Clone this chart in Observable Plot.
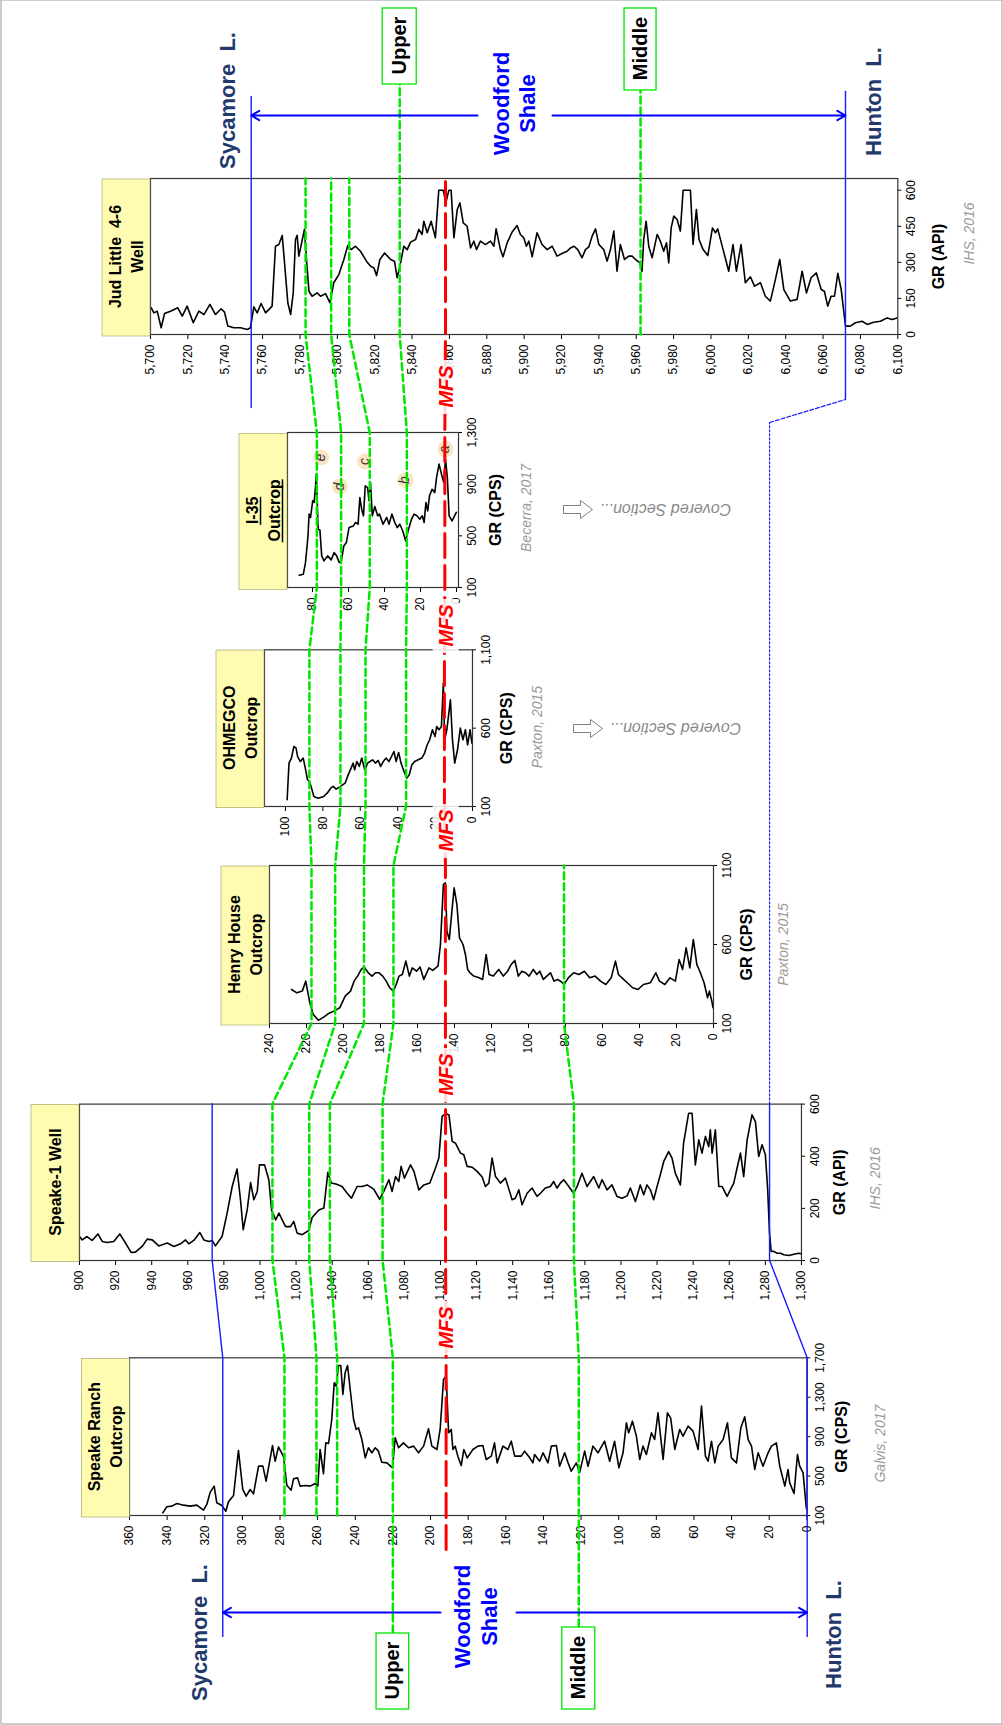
<!DOCTYPE html>
<html><head><meta charset="utf-8">
<script src="https://cdn.jsdelivr.net/npm/d3@7"></script>
<script src="https://cdn.jsdelivr.net/npm/@observablehq/plot@0.6"></script>
<style>
html,body{margin:0;padding:0;background:#fff;}
body{width:1002px;height:1725px;overflow:hidden;position:relative;}
#stage{position:absolute;left:0;top:0;width:1725px;height:1002px;transform-origin:0 0;transform:translate(0px,1725px) rotate(-90deg);background:#fff;}
#stage svg{position:absolute;}
</style></head><body><div id="stage"></div><script>
// ---------------- DATA ----------------
const srDepth = [342.3,340.2,337.5,334.8,331.3,327.8,324.2,320.7,318.9,317.1,315,313.6,310.9,308.8,307.4,304.7,302.1,299.8,298,295.9,294.1,291.4,289.1,287.4,284,282.6,280.8,278.1,276.4,274.1,272.8,270.7,269.3,266.6,264,261.3,259.9,258.7,256.9,255.7,254.2,252.5,251.2,250.2,248.9,247.7,246.6,245.4,244.1,242.4,240.9,239.5,238.3,236.5,234.7,233,231.2,229.4,227.7,225.9,223.2,220.2,218.8,217,214.4,211.7,209,206.4,203.7,201.1,199.3,196.6,194.9,193.1,191.7,190.4,189,188.1,186.9,185.5,183.7,182.3,180.5,177.5,174.8,172.2,170.4,167.7,166,164.6,161.5,158.9,157.1,155.3,151.8,150,147.3,145.6,144.7,142,140.2,137.6,135.8,133.1,131.4,128.7,126.9,125.2,122.5,120.8,118.1,116.3,113.7,111,107.5,104.8,102.2,99.9,97.7,95.9,94.7,92.7,90.6,88.8,87.1,85.3,82.6,80.9,79.1,76.4,74.1,72.4,70.2,67.6,65.8,63.1,60.5,57.8,56,53.9,52.5,50.7,48.9,47.1,44.5,42.2,40.1,37.4,35.1,33,31.2,29.4,27.7,25.9,23.3,20.6,18.8,16.2,14.4,11.7,10,9.1,6.8,5,3.8,2,0.3,0];
const srGR = [127,188,195,222,205,195,205,154,212,337,398,229,201,144,239,303,760,364,296,364,320,601,601,448,810,651,796,695,408,357,472,482,398,404,398,425,398,770,523,837,831,1074,1446,1412,1622,1622,1328,1548,1622,1328,1074,973,990,871,685,787,736,787,753,641,634,584,888,787,837,787,804,736,804,980,804,770,973,1480,1514,939,973,770,804,702,607,770,685,770,804,810,668,702,837,634,804,770,854,702,702,753,685,634,719,651,736,634,804,810,600,736,634,550,634,533,753,600,804,736,854,651,854,584,736,1040,939,1057,905,668,804,719,939,871,1142,668,1142,1091,770,973,905,1007,956,770,1210,702,651,854,634,804,871,1040,685,634,990,1101,871,804,567,736,600,736,804,837,600,398,567,431,323,719,600,533,178,161];

const s1Depth = [900,901.5,904.2,907,910.2,912.6,915.3,919,922.3,925.5,928.6,931,934.7,937.5,940.3,943.9,948.6,952.3,956,958.7,960.6,963.3,966.7,968.9,971.7,973.5,975.3,979,981.8,984.6,987.3,989.2,990.7,992.9,994.8,996.6,998.5,999.7,1002.5,1004.9,1006.4,1008.7,1010.5,1012.3,1014.2,1016.9,1018.7,1020.6,1023.4,1027,1028.9,1032.6,1035.4,1037.6,1039.5,1041.8,1045.5,1048.3,1050.7,1053.8,1056.6,1059.4,1063,1066.3,1068.6,1071.4,1073.2,1075.1,1076.9,1078.2,1080,1083.4,1085.3,1088,1090.8,1094.1,1097.2,1099.1,1100.9,1102.8,1104.7,1106.5,1108.3,1111.1,1112.9,1114.8,1117.5,1120.3,1123.1,1124.9,1126.8,1128.6,1130.5,1133.2,1136,1139.7,1141.5,1143.4,1145.2,1148,1150.8,1153.5,1155.4,1158.1,1160.9,1162.7,1164.6,1166.4,1168.3,1171.1,1173.8,1175.7,1178.4,1181.2,1184.9,1187.7,1189.5,1192.3,1195,1197.8,1200.6,1203.4,1205.2,1208,1210.7,1212.6,1214.4,1216.3,1218.1,1220,1221.8,1223.7,1226.4,1228.3,1230.1,1232.9,1234.7,1237.5,1239.4,1241.2,1243.1,1244.9,1246.8,1248.6,1249.5,1250.5,1252.3,1254.2,1256,1258.8,1260.6,1262.5,1264.3,1266.2,1268,1269.9,1272.6,1274.5,1276.3,1278.2,1280,1281.3,1282.3,1283.2,1284.7,1286.5,1288.4,1290.2,1293,1295.8,1298.5,1300];
const s1GR = [92,79,92,77,102,73,69,73,102,67,31,32,54,82,79,56,67,54,64,79,64,77,107,79,73,77,56,92,182,284,351,233,118,194,299,233,265,367,367,310,194,156,182,156,130,130,150,105,99,115,165,194,201,338,297,294,284,258,239,284,284,290,274,235,265,310,265,322,303,361,316,367,342,271,290,297,354,393,553,563,559,457,450,412,406,361,358,342,320,284,297,393,322,297,316,233,239,271,214,258,278,246,258,278,284,303,278,297,310,284,258,284,335,284,322,278,310,271,290,246,239,248,278,226,290,252,290,271,233,284,329,380,418,393,335,290,450,565,565,367,463,412,476,437,501,412,501,284,284,246,271,297,354,412,322,463,559,533,399,444,406,271,105,35,35,28,28,22,19,24,28,26];

const hhDepth = [228.1,225.2,222.3,220.4,219.4,218.4,216.5,213.6,210.7,207.8,204.9,202,199.1,196.2,194.3,192.4,190.4,188.9,186.6,184.6,182.7,180.8,178.8,176.9,175,173.1,171.5,170,168.2,166.3,164.4,162.8,160.5,158.6,156.6,153.8,151.8,148.9,147.6,146,144.9,144.1,142.8,141.4,140.2,138.7,137.3,135.4,134.1,132.9,131.6,129.6,126.7,124.8,122.9,121.3,119,116.1,113.6,111.3,109.4,107.4,105.5,103.6,101.6,99.7,97.4,95.5,93.9,92,90.1,88.1,86.2,84.3,82.3,80.8,78.5,75.6,72.7,69.8,66.9,64,61.1,58.2,55.3,53,51.4,49.5,46.6,43.7,40.8,37.9,34.1,31.2,29.2,26.3,23.5,20.6,18.6,16.7,14.8,12.8,10.9,9,7.4,5.1,3.2,2.2,0.9,0.3];
const hhGR = [315,294,305,368,305,241,160,120,140,165,180,200,273,305,368,400,442,457,421,400,421,421,400,368,326,305,347,400,410,495,400,452,431,457,379,452,436,463,600,980,990,684,632,811,959,853,642,600,537,442,421,400,389,379,537,410,400,442,400,431,473,499,400,431,421,400,442,410,431,379,400,421,368,379,364,347,389,421,410,431,389,400,368,347,389,495,410,389,358,326,315,347,358,421,368,347,389,368,505,442,579,452,632,473,431,358,263,305,241,200];

const omDepth = [99.1,98.1,96.8,95.5,94.3,93.5,92,90.5,89.2,88.2,87.2,86.3,84.8,82.5,79.6,77.7,75.8,74.5,72.9,70.6,68.1,66.8,65.3,63.8,63,61.8,60.5,59.2,57.6,56.1,54.8,53.4,51.9,50.4,49.1,47.7,46.2,44.7,43.3,42,40.8,39.5,38.2,36.6,35.1,33.8,32.4,30.9,29,27.1,25.6,24.2,22.9,21.4,20,19.1,17.9,16.6,15.6,14.9,13.7,11.8,10.7,9.5,8,6.5,5.1,3.8,2.6,1.3,0.3];
const omGR = [143,377,409,483,473,419,387,409,334,270,260,228,164,153,164,185,217,228,211,228,249,292,334,377,334,387,356,409,334,377,387,398,377,394,356,387,409,387,419,451,387,445,377,324,281,302,366,387,398,409,441,494,526,590,547,611,590,611,887,526,590,781,526,377,462,600,526,590,494,590,504];

const i35Depth = [87.4,85.1,83.9,82.5,81.9,81.1,79.9,79.1,78.3,77.9,77.5,76.9,75.9,74.9,73.6,71.6,69.6,68,66.6,65.2,64,62.6,61.2,59.7,57.3,56.1,54.7,53.7,52.7,51.7,50.7,49.4,48.6,47.8,46.8,45.4,43.8,42.8,40.8,38.8,37.5,35.9,34.3,32.9,31.5,29.9,28.3,26.9,25,23.6,22,20.4,19,18,17,16,15,13.6,12.1,11.1,9.7,8.1,7.1,6.1,5.1,4.1,2.5,1.1,0.1];
const i35GR = [195,203,293,500,668,642,771,758,887,977,822,551,546,345,306,345,314,371,345,293,306,422,448,564,577,603,590,797,706,655,887,874,771,913,655,727,655,668,590,642,590,668,603,564,590,539,461,539,629,668,655,629,655,603,758,693,810,861,835,951,1055,964,913,1093,951,655,616,655,681];

const jlDepth = [5700.4,5701.8,5703.6,5705.7,5707.5,5710.7,5714.6,5717,5719.6,5722.9,5725.9,5728.6,5731.8,5734.8,5737.8,5739.6,5741.4,5744.6,5748.2,5751.8,5753.5,5755.3,5757.1,5759.2,5761.6,5765.1,5766.9,5768.7,5770.5,5771.9,5773.5,5775,5776.4,5777.6,5778.5,5779.4,5780.7,5782.4,5783.5,5784.8,5786.5,5789.2,5791,5793.7,5796,5798.1,5800.8,5803.5,5805.6,5807.4,5809.7,5812.4,5815.6,5817.8,5819.6,5821,5822.8,5825.3,5828.5,5830.6,5832,5833.5,5835.6,5837.4,5839.2,5841.9,5843.6,5845.4,5846.3,5848.1,5850.2,5852.5,5854.3,5856.7,5858.1,5859.7,5860.9,5862.4,5864.2,5865.6,5867.4,5869.5,5871.3,5873.1,5874.5,5876.6,5879.3,5882,5883.8,5885,5887.3,5888.7,5890.9,5893.5,5896.2,5898,5899.8,5901.2,5902.5,5904.3,5906.9,5909.6,5912.3,5915,5917.6,5920.3,5923,5924.8,5926.6,5928.7,5931,5932.8,5934.6,5936.4,5938.2,5940,5942.6,5944.4,5946.2,5948,5949.7,5951.5,5953.7,5956,5957.8,5959.6,5961.9,5963.1,5964,5965.3,5966.7,5968.5,5971.2,5972.9,5974.7,5976.2,5977.4,5978.7,5980.1,5981.9,5983.6,5985.1,5989,5990.4,5992.2,5993.6,5995.8,5998.3,6000.8,6002.4,6003.6,6006.5,6009.5,6011.8,6013.6,6016.1,6018.4,6021.1,6023.3,6026.5,6029.1,6031.8,6034.5,6036.8,6039,6042.5,6046.1,6048.8,6051.1,6053.6,6056.4,6059,6060.7,6062.5,6064.3,6066.1,6067.9,6069.7,6072,6074.6,6077.3,6080.9,6083.6,6087.1,6090.7,6094.3,6097,6099.6];
const jlGR = [111,90,97,28,87,97,111,76,118,49,97,83,125,83,107,93,35,28,28,21,28,115,90,129,90,118,367,374,412,284,132,83,173,395,412,326,374,437,312,180,159,173,159,170,132,215,249,312,370,353,367,346,305,284,277,245,312,339,312,305,236,284,367,353,384,395,437,416,471,423,471,402,600,600,547,600,600,402,520,547,464,450,360,388,353,388,374,388,367,439,353,323,381,425,453,416,402,367,388,323,423,374,353,367,326,337,346,360,367,353,319,353,364,409,439,374,353,305,353,430,263,374,312,326,326,312,298,263,395,471,367,319,416,388,346,381,298,443,492,478,430,600,600,374,520,395,353,328,443,423,439,353,263,374,263,374,215,240,201,215,159,139,229,312,187,139,146,263,173,236,256,187,180,118,159,159,254,187,35,35,49,55,42,51,55,69,62,69];

// correlation horizons: depth in each section [Speake Ranch, Speake-1, Henry House, OHMEGCO, I-35, Jud Little]
const horizonE = [277.8, 1006.9, 217.3, 87.2, 77.6, 5783.0];
const horizonD = [260.8, 1027.3, 204.5, 70.6, 64.1, 5796.7];
const horizonC = [249.8, 1038.7, 188.9, 57.2, 48.2, 5806.4];
const horizonUpper = [220.2, 1067.9, 173.0, 35.5, 27.6, 5833.4];
const horizonMiddle = [121.4, 1173.9, 80.8, null, null, 5962.3];
const horizonMFS = [191.9, 1102.8, 144.9, 15.0, 6.5, 5857.9];
const sycamoreTop = [310.6, 973.5, null, null, null, 5753.9];
const huntonTop = [0, 1282.3, null, null, null, 6072.0];

const i35MarkerText = ["e","d","c","b","a"];
const i35MarkerGR = [1106, 882, 1075, 931, 1170];
const i35MarkerDepth = [75.2, 64.7, 50.8, 28.3, 6.1];

const panelTitles = [["Speake Ranch","Outcrop"],["Speake-1 Well"],["Henry House","Outcrop"],["OHMEGCO","Outcrop"],["I-35","Outcrop"],["Jud Little\u00a0 4-6","Well"]];
const axisTitles = ["GR (CPS)","GR (API)","GR (CPS)","GR (CPS)","GR (CPS)","GR (API)"];
const citations = ["Galvis, 2017","IHS, 2016","Paxton, 2015","Paxton, 2015","Becerra, 2017","IHS, 2016"];

// ---------------- LAYOUT (reading orientation, rotated -90deg on the page) ----------------
const FONT = "'Liberation Sans', Arial, Helvetica, sans-serif";
const fComma = d3.format(","), fInt = d3.format("d");
const layout = [
  {depth: srDepth, gr: srGR, x0: 209, x1: 366.7, y0: 129.3, y1: 806.7, grDomain: [100,1700], grTicks: [100,500,900,1300,1700], grFormat: fComma, depthDomain: [0,360], reverse: false, depthTicks: d3.range(0,361,20), depthFormat: fInt, titleDy: 40, citeDy: 78, citeDx: -7},
  {depth: s1Depth, gr: s1GR, x0: 464.3, x1: 620.7, y0: 79, y1: 801, grDomain: [0,600], grTicks: [0,200,400,600], grFormat: fComma, depthDomain: [900,1300], reverse: true, depthTicks: d3.range(900,1301,20), depthFormat: fComma, titleDy: 44, citeDy: 79, citeDx: 4},
  {depth: hhDepth, gr: hhGR, x0: 701, x1: 859, y0: 269, y1: 713, grDomain: [100,1100], grTicks: [100,600,1100], grFormat: fInt, depthDomain: [0,240], reverse: false, depthTicks: d3.range(0,241,20), depthFormat: fInt, titleDy: 38, citeDy: 74, citeDx: 0},
  {depth: omDepth, gr: omGR, x0: 918.3, x1: 1075, y0: 264, y1: 472, grDomain: [100,1100], grTicks: [100,600,1100], grFormat: fComma, depthDomain: [0,111.2], reverse: false, depthTicks: d3.range(0,101,20), depthFormat: fInt, titleDy: 40, citeDy: 70, citeDx: 1},
  {depth: i35Depth, gr: i35GR, x0: 1136.7, x1: 1291.7, y0: 287, y1: 458, grDomain: [100,1300], grTicks: [100,500,900,1300], grFormat: fComma, depthDomain: [-1.1,93.9], reverse: false, depthTicks: [0,20,40,60,80], depthFormat: fInt, titleDy: 42, citeDy: 72, citeDx: 2},
  {depth: jlDepth, gr: jlGR, x0: 1390, x1: 1546, y0: 150, y1: 897.3, grDomain: [0,648.6], grTicks: [0,150,300,450,600], grFormat: fComma, depthDomain: [5700,6100], reverse: true, depthTicks: d3.range(5700,6101,20), depthFormat: fComma, titleDy: 46, citeDy: 76, citeDx: 23}
];

const stage = document.getElementById("stage");
const ML = 60, MR = 20, MT = 10, MB = 100;

const built = layout.map((p, i) => {
  const data = p.depth.map((d, k) => ({depth: d, gr: p.gr[k]}));
  const extra = [];
  if (i === 4) {
    const mk = i35MarkerText.map((t, k) => ({t, gr: i35MarkerGR[k], depth: i35MarkerDepth[k]}));
    extra.push(Plot.dot(mk, {x: "gr", y: "depth", r: 8, fill: "#fbe4c2", stroke: "none"}));
    extra.push(Plot.text(mk, {x: "gr", y: "depth", text: "t", fontStyle: "italic", fontSize: 14, fill: "#333", dy: -1}));
  }
  const chart = Plot.plot({
    width: (p.x1 - p.x0) + ML + MR,
    height: (p.y1 - p.y0) + MT + MB,
    marginLeft: ML, marginRight: MR, marginTop: MT, marginBottom: MB,
    style: {fontFamily: FONT, fontSize: "12px", background: "transparent", overflow: "visible", maxWidth: "none", color: "#000"},
    x: {domain: p.grDomain, ticks: p.grTicks, tickFormat: p.grFormat, tickSize: 4, tickPadding: 5, label: null},
    y: {domain: p.depthDomain, reverse: p.reverse, ticks: p.depthTicks, tickFormat: p.depthFormat, tickSize: 4, tickPadding: 6, label: null},
    marks: [
      ...extra,
      Plot.line(data, {x: "gr", y: "depth", stroke: "#000", strokeWidth: 1.6, strokeLinejoin: "round"}),
      Plot.frame({stroke: "#333", strokeWidth: 1.2}),
      Plot.text([axisTitles[i]], {text: d => d, frameAnchor: "bottom", dy: p.titleDy, fontWeight: "bold", fontSize: 16, fill: "#000"}),
      Plot.text([citations[i]], {text: d => d, frameAnchor: "bottom", dy: p.citeDy, dx: p.citeDx, fontStyle: "italic", fontSize: 14, fill: "#9a9a9a"})
    ]
  });
  chart.style.position = "absolute";
  chart.style.left = (p.x0 - ML) + "px";
  chart.style.top = (p.y0 - MT) + "px";
  stage.appendChild(chart);
  const sx = chart.scale("x"), sy = chart.scale("y");
  return {...p, X: v => p.x0 - ML + sx.apply(v), Y: d => p.y0 - MT + sy.apply(d)};
});

// ---------------- OVERLAY ----------------
function polylines(depths) {
  const lines = []; let cur = null;
  depths.forEach((d, i) => {
    if (d == null) { cur = null; return; }
    if (!cur) { cur = []; lines.push(cur); }
    const p = built[i], y = p.Y(d);
    cur.push([p.x0, y], [p.x1, y]);
  });
  return lines;
}
const rows = (lines, name) => lines.flatMap((l, j) => l.map(([x, y]) => ({x, y, z: name + j})));

const hE = polylines(horizonE), hD = polylines(horizonD), hC = polylines(horizonC);
const hU = polylines(horizonUpper)[0];
const hM = polylines(horizonMiddle);
const upBottomY = hU[0][1], upTopY = hU[hU.length - 1][1];
hU.unshift([92, upBottomY]); hU.push([1641, upTopY]);
const midBottomY = hM[0][0][1], midTopY = hM[1][hM[1].length - 1][1];
hM[0].unshift([98, midBottomY]); hM[1].push([1635, midTopY]);
const greenRows = [...rows(hE, "e"), ...rows(hD, "d"), ...rows(hC, "c"), ...rows([hU], "u"), ...rows(hM, "m")];

const mfs = polylines(horizonMFS)[0];
const mfsY = mfs[0][1];
mfs.unshift([built[0].x0 - 34, mfsY]);

// boundary lines (blue)
const S0 = built[0], S1 = built[1], J = built[5];
const syc0 = S0.Y(sycamoreTop[0]), syc1 = S1.Y(sycamoreTop[1]), syc5 = J.Y(sycamoreTop[5]);
const hun0 = S0.Y(huntonTop[0]), hun1 = S1.Y(huntonTop[1]), hun5 = J.Y(huntonTop[5]);
const blueSolid = [
  {x: 88, y: syc0, z: "s1"}, {x: S0.x1, y: syc0, z: "s1"}, {x: S1.x0, y: syc1, z: "s1"}, {x: S1.x1, y: syc1, z: "s1"},
  {x: J.x0 - 73, y: syc5, z: "s2"}, {x: J.x1 + 82, y: syc5, z: "s2"},
  {x: 88, y: hun0, z: "h1"}, {x: S0.x1, y: hun0, z: "h1"}, {x: S1.x0, y: hun1, z: "h1"}, {x: S1.x1, y: hun1, z: "h1"},
  {x: J.x0 - 65, y: hun5, z: "h2"}, {x: J.x1 + 87, y: hun5, z: "h2"}
];
const blueDotted = [{x: S1.x1, y: hun1}, {x: J.x0 - 88, y: hun1}];
const blueDashed = [{x: J.x0 - 88, y: hun1}, {x: J.x0 - 65, y: hun5}];

const topArrowX = 1609, botArrowX = 112;
const arrows = [
  {x: topArrowX, y1: 477, y2: syc5}, {x: topArrowX, y1: 552, y2: hun5},
  {x: botArrowX, y1: 440, y2: syc0}, {x: botArrowX, y1: 516, y2: hun0}
];

// label boxes
const yellow = built.map((p, i) => ({x1: p.x0 - 1, x2: p.x1, y1: p.y0 - 48, y2: p.y0}));
const titleTexts = [];
built.forEach((p, i) => {
  const cx = (p.x0 + p.x1) / 2, cy = p.y0 - 24;
  const lines = panelTitles[i];
  lines.forEach((t, k) => {
    const yy = lines.length === 1 ? cy : cy + (k === 0 ? -11 : 11);
    titleTexts.push({x: cx, y: yy, t, u: i === 4});
  });
});
// underline for the I-35 title (approximate text half widths at 16px bold)
const underline = titleTexts.filter(d => d.u).map(d => ({x1: d.x - (d.t === "I-35" ? 14 : 31.5), x2: d.x + (d.t === "I-35" ? 14 : 31.5), y: d.y + 8}));

const boxes = [
  {x1: 16, x2: 92, y1: upBottomY - 16.3, y2: upBottomY + 16.3, t: "Upper"},
  {x1: 16, x2: 98, y1: midBottomY - 16.5, y2: midBottomY + 16.5, t: "Middle"},
  {x1: 1641, x2: 1717, y1: upTopY - 17, y2: upTopY + 17, t: "Upper"},
  {x1: 1635, x2: 1717, y1: midTopY - 16, y2: midTopY + 16, t: "Middle"}
];

const mfsLabelX = [397, 650, 894, 1099, 1338];
const mfsLabels = mfsLabelX.map(x => ({x, y: mfsY}));

const annotations = [
  {x: 1624, y: 227, t: "Sycamore\u00a0 L.", c: "#23396b"},
  {x: 1623, y: 873, t: "Hunton\u00a0 L.", c: "#23396b"},
  {x: 1621, y: 501, t: "Woodford", c: "#0000ff"},
  {x: 1621, y: 527, t: "Shale", c: "#0000ff"},
  {x: 92, y: 199, t: "Sycamore\u00a0 L.", c: "#23396b"},
  {x: 90, y: 833, t: "Hunton\u00a0 L.", c: "#23396b"},
  {x: 108, y: 462, t: "Woodford", c: "#0000ff"},
  {x: 108, y: 489, t: "Shale", c: "#0000ff"}
];

const covered = [{x: 1215, y: 563, ty: 665}, {x: 996, y: 573, ty: 675}];
const arrowShape = covered.flatMap((c, j) => [[-4,0],[4,0],[4,17],[9,17],[0,29],[-9,17],[-4,17],[-4,0]].map(([dx, dy]) => ({x: c.x + dx, y: c.y + dy, z: j})));

const overlay = Plot.plot({
  width: 1725, height: 1002, margin: 0,
  style: {fontFamily: FONT, background: "transparent", overflow: "visible", maxWidth: "none"},
  x: {type: "identity", axis: null},
  y: {type: "identity", axis: null},
  marks: [
    Plot.frame({stroke: "#9a9a9a", inset: 0.5}),
    Plot.rect(yellow, {x1: "x1", x2: "x2", y1: "y1", y2: "y2", fill: "#fffbb0", stroke: "#9a9a60", strokeWidth: 0.6}),
    Plot.text(titleTexts, {x: "x", y: "y", text: "t", fontWeight: "bold", fontSize: 16, fill: "#000"}),
    Plot.ruleY(underline, {x1: "x1", x2: "x2", y: "y", stroke: "#000", strokeWidth: 1.5}),
    Plot.line(blueSolid, {x: "x", y: "y", z: "z", stroke: "#1a1aff", strokeWidth: 1.4}),
    Plot.line(blueDotted, {x: "x", y: "y", stroke: "#1a1aff", strokeWidth: 1.2, strokeDasharray: "2,2"}),
    Plot.line(blueDashed, {x: "x", y: "y", stroke: "#1a1aff", strokeWidth: 1.2, strokeDasharray: "4,2"}),
    Plot.line(greenRows, {x: "x", y: "y", z: "z", stroke: "#00e600", strokeWidth: 2.5, strokeDasharray: "7,4"}),
    Plot.line(mfs.map(([x, y]) => ({x, y})), {x: "x", y: "y", stroke: "#ff0000", strokeWidth: 3, strokeDasharray: "24,8"}),
    Plot.arrow(arrows, {x1: "x", x2: "x", y1: "y1", y2: "y2", stroke: "#0000ff", strokeWidth: 2, headLength: 7}),
    Plot.rect(boxes, {x1: "x1", x2: "x2", y1: "y1", y2: "y2", fill: "#fff", stroke: "#00e600", strokeWidth: 1.3}),
    Plot.text(boxes, {x: d => (d.x1 + d.x2) / 2, y: d => (d.y1 + d.y2) / 2, text: "t", fontWeight: "bold", fontSize: 20, fill: "#000"}),
    Plot.rect(mfsLabels, {x1: d => d.x - 27, x2: d => d.x + 27, y1: d => d.y - 13, y2: d => d.y + 13, fill: "#fff", fillOpacity: 0.85}),
    Plot.text(mfsLabels, {x: "x", y: "y", text: () => "MFS", fontWeight: "bold", fontStyle: "italic", fontSize: 20, fill: "#ff0000"}),
    Plot.text(annotations, {x: "x", y: "y", text: "t", fill: "c", fontWeight: "bold", fontSize: 22}),
    Plot.line(arrowShape, {x: "x", y: "y", z: "z", stroke: "#808080", strokeWidth: 1}),
    Plot.text(covered, {x: "x", y: "ty", text: () => "Covered Section...", rotate: -90, fontStyle: "italic", fontSize: 16, fill: "#8a8a8a"})
  ]
});
overlay.style.position = "absolute";
overlay.style.left = "0px";
overlay.style.top = "0px";
stage.appendChild(overlay);
</script></body></html>
